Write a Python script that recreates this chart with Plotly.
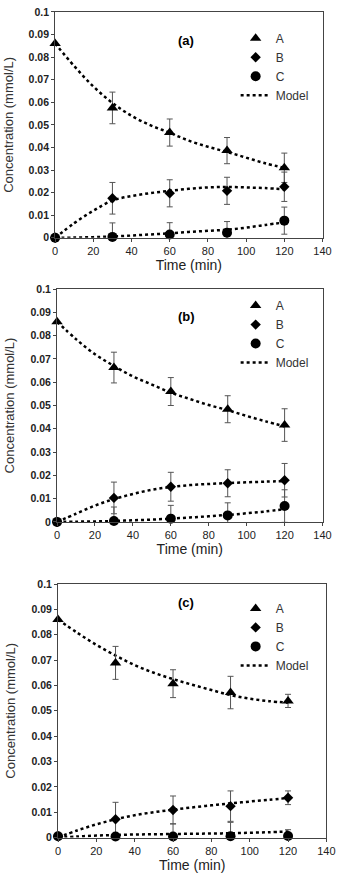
import plotly.graph_objects as go

# sampling times (min) and model curve times
time = [0, 30, 60, 90, 120]
model_time = [0, 10, 20, 30, 40, 50, 60, 70, 80, 90, 100, 110, 120]

# panel (a)
a_A = [0.086, 0.0575, 0.0466, 0.0386, 0.031]
a_A_err = [0, 0.007, 0.006, 0.0058, 0.0065]
a_B = [0, 0.0175, 0.0197, 0.0208, 0.0226]
a_B_err = [0, 0.007, 0.006, 0.006, 0.0065]
a_C = [0, 0.0004, 0.0015, 0.0022, 0.0076]
a_C_err = [0, 0.0062, 0.0052, 0.005, 0.006]
a_mA = [0.086, 0.076, 0.067, 0.0597, 0.054, 0.0498, 0.0465, 0.043, 0.0403, 0.038, 0.0355, 0.033, 0.031]
a_mB = [0, 0.0065, 0.012, 0.0165, 0.0185, 0.0198, 0.0208, 0.0217, 0.0223, 0.0225, 0.0223, 0.022, 0.0215]
a_mC = [0, 0.0001, 0.0003, 0.0006, 0.001, 0.0015, 0.002, 0.0026, 0.0031, 0.0036, 0.0045, 0.0057, 0.0068]

# panel (b)
b_A = [0.086, 0.0663, 0.056, 0.0484, 0.0416]
b_A_err = [0, 0.0066, 0.006, 0.0058, 0.007]
b_B = [0, 0.0103, 0.0151, 0.0166, 0.0179]
b_B_err = [0, 0.0068, 0.0062, 0.0058, 0.0072]
b_C = [0, 0.0004, 0.0014, 0.0028, 0.0068]
b_C_err = [0, 0.006, 0.0057, 0.0054, 0.007]
b_mA = [0.086, 0.0785, 0.072, 0.067, 0.0625, 0.059, 0.0555, 0.0528, 0.0502, 0.048, 0.0455, 0.0432, 0.041]
b_mB = [0, 0.0035, 0.007, 0.0098, 0.012, 0.0138, 0.015, 0.0158, 0.0163, 0.0167, 0.017, 0.0173, 0.0175]
b_mC = [0, 0.0001, 0.0002, 0.0004, 0.0007, 0.001, 0.0014, 0.0019, 0.0024, 0.003, 0.0037, 0.0045, 0.0055]

# panel (c)
c_A = [0.086, 0.0689, 0.0607, 0.0572, 0.0539]
c_A_err = [0, 0.0065, 0.0055, 0.0064, 0.0026]
c_B = [0.0005, 0.0072, 0.0109, 0.0124, 0.0157]
c_B_err = [0, 0.0067, 0.0055, 0.006, 0.0027]
c_C = [0.0005, 0.0004, 0.0004, 0.0005, 0.0006]
c_C_err = [0, 0, 0.005, 0.0055, 0.0025]
c_mA = [0.086, 0.0808, 0.076, 0.0718, 0.068, 0.065, 0.0625, 0.0603, 0.0582, 0.0562, 0.0548, 0.0538, 0.0532]
c_mB = [0, 0.0028, 0.0052, 0.0072, 0.0088, 0.01, 0.011, 0.0119, 0.0127, 0.0135, 0.0142, 0.0149, 0.0156]
c_mC = [0, 0.0004, 0.0008, 0.001, 0.0012, 0.0013, 0.0014, 0.0015, 0.0016, 0.0017, 0.0019, 0.0021, 0.0024]

y_ticks = [0, 0.01, 0.02, 0.03, 0.04, 0.05, 0.06, 0.07, 0.08, 0.09, 0.1]
y_ticktext = ["0", "0.01", "0.02", "0.03", "0.04", "0.05", "0.06", "0.07", "0.08", "0.09", "0.1"]
x_ticks = [0, 20, 40, 60, 80, 100, 120, 140]

W, H = 346, 884
FONT = "Arial, Liberation Sans, sans-serif"
panels = [
    ("(a)", a_A, a_A_err, a_B, a_B_err, a_C, a_C_err, a_mA, a_mB, a_mC),
    ("(b)", b_A, b_A_err, b_B, b_B_err, b_C, b_C_err, b_mA, b_mB, b_mC),
    ("(c)", c_A, c_A_err, c_B, c_B_err, c_C, c_C_err, c_mA, c_mB, c_mC),
]
# plot areas in pixels: (left, right, top, bottom)
boxes = [(54, 331, 6, 235), (56, 331, 287, 523), (57, 335, 586, 843)]
legend_top = [18, 289, 596]
label_y = [25, 315, 614]

fig = go.Figure()
layout = {}
for i, (label, A, Ae, B, Be, C, Ce, mA, mB, mC) in enumerate(panels):
    n = "" if i == 0 else str(i + 1)
    xa, ya, lg = "x" + n, "y" + n, "legend" + n
    err = dict(type="data", thickness=1, width=3, color="#555")
    model_line = dict(color="black", width=2.5, dash="dot")
    for mv in (mA, mB, mC):
        fig.add_trace(go.Scatter(x=model_time, y=mv, mode="lines", line=model_line, line_shape="spline",
                                 showlegend=False, xaxis=xa, yaxis=ya, cliponaxis=False))
    for name, vals, e, sym, size in (("A", A, Ae, "triangle-up", 10), ("B", B, Be, "diamond", 8),
                                      ("C", C, Ce, "circle", 10)):
        fig.add_trace(go.Scatter(x=time, y=vals, mode="markers", name=name,
                                 marker=dict(symbol=sym, size=size, color="black"),
                                 error_y=dict(array=e, **err), xaxis=xa, yaxis=ya,
                                 legend=lg, cliponaxis=False))
    fig.add_trace(go.Scatter(x=[None], y=[None], mode="lines", name="Model", line=model_line,
                             xaxis=xa, yaxis=ya, legend=lg))

    l, r, t, b = boxes[i]
    layout["xaxis" + n] = dict(domain=[l / W, r / W], range=[0, 140], tickvals=x_ticks, anchor=ya,
                               showline=True, mirror=True, linecolor="#444", linewidth=1,
                               ticks="outside", ticklen=3, tickcolor="#444", showgrid=False, zeroline=False,
                               tickfont=dict(size=11, color="#222", family=FONT),
                               title=dict(text="Time (min)", standoff=4,
                                          font=dict(size=14, color="#222", family=FONT)))
    layout["yaxis" + n] = dict(domain=[1 - b / H, 1 - t / H], range=[0, 0.1], tickvals=y_ticks,
                               ticktext=["<b>%s</b>" % s for s in y_ticktext], anchor=xa,
                               showline=True, mirror=True, linecolor="#444", linewidth=1,
                               ticks="outside", ticklen=3, tickcolor="#444", showgrid=False, zeroline=False,
                               tickfont=dict(size=10.5, color="#222", family=FONT),
                               title=dict(text="Concentration (mmol/L)", standoff=12,
                                          font=dict(size=13, color="#333", family=FONT)))
    layout[lg] = dict(x=241 / W, y=1 - legend_top[i] / H, xanchor="left", yanchor="top",
                      bgcolor="rgba(0,0,0,0)", font=dict(size=12, color="#333", family=FONT),
                      itemwidth=30, tracegroupgap=0)
    fig.add_annotation(text="<b>%s</b>" % label, xref="paper", yref="paper",
                       x=190 / W, y=1 - label_y[i] / H, showarrow=False,
                       font=dict(size=13, color="black", family=FONT))

fig.update_layout(width=W, height=H, margin=dict(l=0, r=0, t=0, b=0),
                  paper_bgcolor="white", plot_bgcolor="white", **layout)
fig.write_html("out.html", config={"displayModeBar": False},
               post_script="document.body.style.margin='0';")
